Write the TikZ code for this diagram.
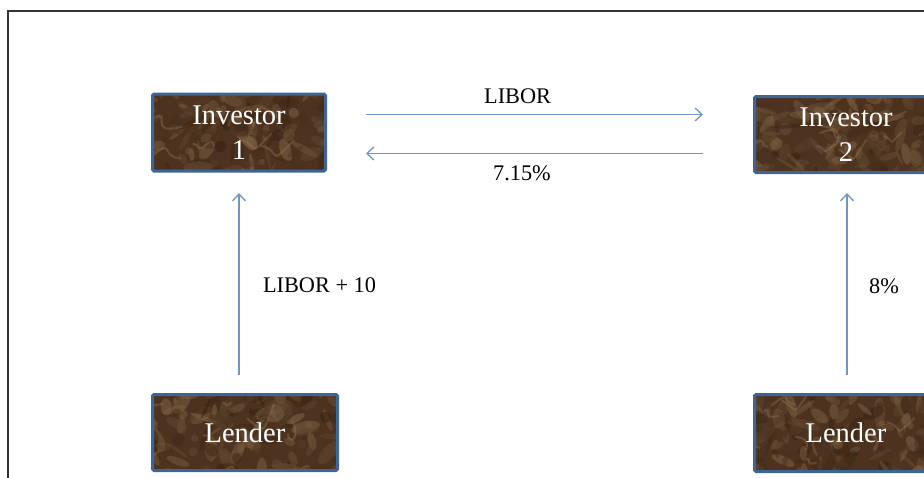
\documentclass[tikz,border=0pt]{standalone}
\usepackage{fontspec}
\setmainfont{Liberation Serif}
\usetikzlibrary{arrows.meta}
\definecolor{arrowblue}{HTML}{6F95C9}
\definecolor{boxborder}{HTML}{3F6597}
\definecolor{darkbr}{HTML}{33200F}
\definecolor{midbr}{HTML}{4E3220}
\definecolor{lightbr}{HTML}{A68560}
\definecolor{framegray}{HTML}{333333}
\tikzset{
  marble/.style={
    draw=boxborder, line width=3pt, rounded corners=1.5pt, fill=midbr,
    inner sep=0pt, text=white, align=center,
    font=\fontsize{28.5}{35}\selectfont,
    path picture={
      \pgfmathsetseed{#1}
      \foreach \k in {1,...,160}{
        \pgfmathsetmacro\mx{rnd*200-100}
        \pgfmathsetmacro\my{rnd*90-45}
        \pgfmathsetmacro\ma{rnd*180}
        \pgfmathsetmacro\mw{3+rnd*12}
        \pgfmathsetmacro\mh{1.5+rnd*5}
        \pgfmathsetmacro\mc{rnd*70}
        \fill[lightbr!\mc!darkbr, opacity=0.5]
          ([shift={(\mx,\my)}]path picture bounding box.center)
          ellipse [x radius=\mw, y radius=\mh, rotate=\ma];
      }
      \foreach \k in {1,...,14}{
        \pgfmathsetmacro\mx{rnd*200-100}
        \pgfmathsetmacro\my{rnd*90-45}
        \pgfmathsetmacro\ex{rnd*50-25}
        \pgfmathsetmacro\ey{rnd*30-15}
        \draw[lightbr, opacity=0.3, line width=2pt,
              shift={(path picture bounding box.center)}]
          (\mx,\my) .. controls (\mx+\ex,\my-\ey) and (\mx-\ey,\my+\ex) .. (\mx+\ex*1.5,\my+\ey);
      }
    }
  },
  arr/.style={draw=arrowblue, line width=1.3pt, -{Straight Barb[length=7pt,width=13pt]}},
  lbl/.style={font=\fontsize{22.3}{26}\selectfont, anchor=base, inner sep=0pt}
}
\begin{document}
\begin{tikzpicture}[x=1pt,y=-1pt]
\useasboundingbox (0,0) rectangle (924,477);
\fill[white] (0,0) rectangle (924,477);
\draw[framegray, line width=1.2pt] (930,11) -- (8,11) -- (8,480);

\node[marble=11, minimum width=173pt, minimum height=77pt] (inv1) at (239,132.5) {Investor\\1};
\node[marble=23, minimum width=183pt, minimum height=76pt] (inv2) at (846,134.5) {Investor\\2};
\node[marble=37, minimum width=185pt, minimum height=76pt] (len1) at (245,432.5) {Lender};
\node[marble=51, minimum width=183pt, minimum height=77pt] (len2) at (846,433) {Lender};

\coordinate (t1) at (366,114.5);
\coordinate (t2) at (703,114.5);
\coordinate (b1) at (366,153.5);
\coordinate (b2) at (703,153.5);
\coordinate (v1a) at (239,375);
\coordinate (v1b) at (239,193);
\coordinate (v2a) at (847,375);
\coordinate (v2b) at (847,193);

\draw[arr] (t1) -- (t2);
\draw[arr] (b2) -- (b1);
\draw[arr] (v1a) -- (v1b);
\draw[arr] (v2a) -- (v2b);

\node[lbl] (l1) at (517.6,103) {LIBOR};
\node[lbl] (l2) at (522,180.5) {7.15\%};
\node[lbl] (l3) at (319.5,292) {LIBOR + 10};
\node[lbl] (l4) at (884,293) {8\%};
\end{tikzpicture}
\end{document}
